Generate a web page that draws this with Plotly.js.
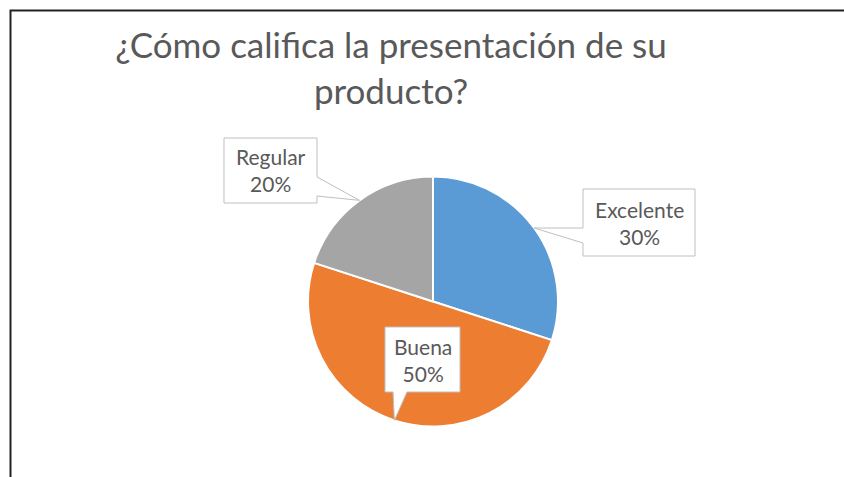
<!DOCTYPE html>
<html>
<head>
<meta charset="utf-8">
<script src="https://cdn.plot.ly/plotly-3.0.1.min.js"></script>
<style>html,body{margin:0;padding:0;background:#fff;}#chart{width:844px;height:477px;}</style>
</head>
<body>
<div id="chart"></div>
<script>
// ---- data ----
const categories = ['Excelente', 'Buena', 'Regular'];
const values = [30, 50, 20];
const sliceColors = ['#5B9BD5', '#ED7D31', '#A5A5A5'];
const titleText = '¿Cómo califica la presentación de su<br>producto?';

// ---- layout helpers (pixels -> paper) ----
const W = 844, H = 477;
const px = x => x / W;
const py = y => 1 - y / H;

// pie placement (pixels)
const cx = 433, cy = 301.5, R = 125;

// callout boxes (pixels): box, side the pointer leaves from, pointer base span
const callouts = {
  'Regular':   {box: [224, 138, 317, 203], side: 'right',  base: [177, 196]},
  'Excelente': {box: [583, 189, 695, 256], side: 'left',   base: [228, 243]},
  'Buena':     {box: [385, 327, 460, 392], side: 'bottom', base: [393, 407]}
};

const total = values.reduce((a, b) => a + b, 0);
let cum = 0;
const shapes = [];
const annotations = [];
categories.forEach((cat, i) => {
  const mid = (cum + values[i] / 2) / total * 2 * Math.PI; // clockwise from 12 o'clock
  cum += values[i];
  const tx = cx + R * Math.sin(mid);
  const ty = cy - R * Math.cos(mid);
  const c = callouts[cat];
  const [x0, y0, x1, y1] = c.box;
  let pts;
  if (c.side === 'right') {
    pts = [[x0, y0], [x1, y0], [x1, c.base[0]], [tx, ty], [x1, c.base[1]], [x1, y1], [x0, y1]];
  } else if (c.side === 'left') {
    pts = [[x0, y0], [x1, y0], [x1, y1], [x0, y1], [x0, c.base[1]], [tx, ty], [x0, c.base[0]]];
  } else {
    pts = [[x0, y0], [x1, y0], [x1, y1], [c.base[1], y1], [tx, ty], [c.base[0], y1], [x0, y1]];
  }
  const path = 'M ' + pts.map(p => px(p[0]).toFixed(5) + ',' + py(p[1]).toFixed(5)).join(' L ') + ' Z';
  shapes.push({type: 'path', xref: 'paper', yref: 'paper', path: path,
    fillcolor: '#FFFFFF', line: {color: '#BFBFBF', width: 1}, layer: 'above'});
  const pct = Math.round(values[i] / total * 100) + '%';
  annotations.push({xref: 'paper', yref: 'paper', x: px((x0 + x1) / 2), y: py((y0 + y1) / 2),
    xanchor: 'center', yanchor: 'middle', showarrow: false, text: cat + '<br>' + pct,
    font: {family: 'Lato, "Open Sans", sans-serif', size: 21, color: '#595959'}});
});

// outer frame (left and top edges)
shapes.push({type: 'path', xref: 'paper', yref: 'paper',
  path: 'M ' + px(10.5) + ',' + py(477) + ' L ' + px(10.5) + ',' + py(10.5) + ' L ' + px(844) + ',' + py(10.5),
  line: {color: '#222222', width: 2}, layer: 'above'});

const trace = {
  type: 'pie',
  labels: categories,
  values: values,
  sort: false,
  direction: 'clockwise',
  rotation: 0,
  textinfo: 'none',
  hoverinfo: 'label+percent',
  marker: {colors: sliceColors, line: {color: '#FFFFFF', width: 2}},
  domain: {x: [px(cx - R), px(cx + R)], y: [py(cy + R), py(cy - R)]},
  showlegend: false
};

const layout = {
  width: W, height: H,
  margin: {l: 0, r: 0, t: 0, b: 0},
  paper_bgcolor: '#FFFFFF',
  plot_bgcolor: '#FFFFFF',
  showlegend: false,
  title: {
    text: titleText,
    x: px(391), xanchor: 'center', xref: 'paper',
    y: 1 - 58 / H, yanchor: 'top', yref: 'container',
    font: {family: 'Lato, "Open Sans", sans-serif', size: 35, color: '#595959'}
  },
  shapes: shapes,
  annotations: annotations
};

Plotly.newPlot('chart', [trace], layout, {displayModeBar: false, staticPlot: true});
</script>
</body>
</html>
